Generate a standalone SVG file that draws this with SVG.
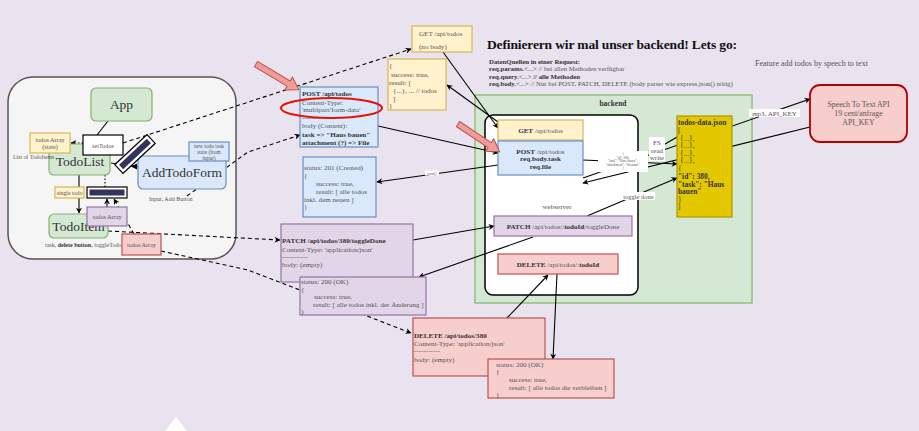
<svg xmlns="http://www.w3.org/2000/svg" width="919" height="431" viewBox="0 0 919 431">
<style>
text{font-family:"Liberation Serif","DejaVu Serif",serif;fill:#555}
.b{font-weight:bold;fill:#333}
.big{font-size:13.5px;text-anchor:middle;fill:#333}
.s{font-size:7.1px}
.xs{font-size:6.2px}
.c{text-anchor:middle}
.g{fill:#d5e8d4;stroke:#82b366;stroke-width:1.2}
.y{fill:#fff2cc;stroke:#d6b656;stroke-width:1.2}
.bl{fill:#dae8fc;stroke:#6c8ebf;stroke-width:1.2}
.p{fill:#e1d5e7;stroke:#9673a6;stroke-width:1.2}
.r{fill:#f8cecc;stroke:#b85450;stroke-width:1.2}
.ln{stroke:#000;stroke-width:1.1;fill:none}
.da{stroke-dasharray:4 3}
.dt{stroke-dasharray:1.5 2}
.lb{fill:#fff}
.pink{fill:#f19c99;stroke:#b85450;stroke-width:1}
</style>
<defs>
<marker id="arr" viewBox="0 0 10 10" refX="9" refY="5" markerWidth="6" markerHeight="6" markerUnits="userSpaceOnUse" orient="auto"><path d="M0,0 L10,5 L0,10 L3,5 z" fill="#000"/></marker>
</defs>
<rect width="919" height="431" fill="#e9e3ef"/>
<polygon points="165,431 176,417 187,431" fill="#fff"/>

<g id="frontend-panel"><rect x="8" y="77" width="228" height="182" rx="25" fill="#f5f5f5" stroke="#555" stroke-width="1.5"/></g>

<g id="title">
<text x="487" y="49" class="b" style="font-size:13.5px;fill:#111" textLength="250">Definierern wir mal unser backend! Lets go:</text>
<text x="489" y="64" style="font-size:6.8px"><tspan class="b">DatenQuellen in einer Request:</tspan></text>
<text x="489" y="71" style="font-size:6.8px"><tspan class="b">req.params.</tspan>&lt;...&gt; // bei allen Methoden verfügbar</text>
<text x="489" y="78.5" style="font-size:6.8px"><tspan class="b">req.query.</tspan>&lt;...&gt; <tspan class="b">// alle Methoden</tspan></text>
<text x="489" y="86" style="font-size:6.8px"><tspan class="b">req.body.</tspan>&lt;...&gt; // Nur bei POST, PATCH, DELETE (body parser wie express.json() nötig)</text>
<text x="755" y="66" style="font-size:8px">Feature add todos by speech to text</text>
</g>

<g id="backend"><rect x="475" y="95" width="277" height="208" class="g"/><text x="613" y="106" class="b c" style="font-size:7.5px">backend</text></g>
<g id="webserver"><rect x="485" y="115" width="153" height="180" rx="8" fill="#fff" stroke="#000" stroke-width="1.5"/><text x="557" y="209" class="s c">webserver</text></g>

<g id="connectors">
<line x1="108" y1="121" x2="97" y2="135" class="ln"/>
<line x1="83" y1="143" x2="71" y2="143" class="ln dt" marker-end="url(#arr)"/>
<line x1="79" y1="175" x2="79" y2="213" class="ln" marker-end="url(#arr)"/>
<line x1="105" y1="187" x2="105" y2="156" class="ln dt" marker-end="url(#arr)"/>
<line x1="107" y1="207" x2="107" y2="199" class="ln da" marker-end="url(#arr)"/>
<line x1="134" y1="234" x2="114" y2="199" class="ln da" marker-end="url(#arr)"/>
<line x1="111" y1="163" x2="139" y2="167" class="ln"/>
<line x1="123" y1="143" x2="411" y2="49" class="ln da" marker-end="url(#arr)"/>
<polyline points="187,196 248,152 300,135" class="ln da" marker-end="url(#arr)"/>
<line x1="108" y1="231" x2="280" y2="240" class="ln da" marker-end="url(#arr)"/>
<polyline points="161,251 248,270 411,333" class="ln da" marker-end="url(#arr)"/>
<line x1="443" y1="52" x2="498" y2="128" class="ln" marker-end="url(#arr)"/>
<line x1="498" y1="122" x2="447" y2="85" class="ln" marker-end="url(#arr)"/>
<line x1="378" y1="126" x2="498" y2="153" class="ln" marker-end="url(#arr)"/>
<line x1="498" y1="165" x2="377" y2="182" class="ln" marker-end="url(#arr)"/>
<line x1="413" y1="240" x2="494" y2="226" class="ln" marker-end="url(#arr)"/>
<line x1="533" y1="237" x2="419" y2="277" class="ln" marker-end="url(#arr)"/>
<line x1="507" y1="318" x2="548" y2="275" class="ln" marker-end="url(#arr)"/>
<line x1="557" y1="274" x2="553" y2="359" class="ln" marker-end="url(#arr)"/>
<line x1="583" y1="160" x2="677" y2="164" class="ln" marker-end="url(#arr)"/>
<line x1="655" y1="150" x2="677" y2="137" class="ln"/>
<line x1="587" y1="216" x2="677" y2="178" class="ln" marker-end="url(#arr)"/>
<line x1="583" y1="178" x2="810" y2="99" class="ln" marker-end="url(#arr)"/>
<line x1="810" y1="127" x2="583" y2="183" class="ln" marker-end="url(#arr)"/>
<rect x="425" y="170.5" width="14" height="5" class="lb"/><text x="432" y="174.7" class="c" style="font-size:4px">json()</text>
<rect x="649" y="137" width="16" height="24" class="lb"/>
<text x="657" y="145" class="c" style="font-size:7px">FS</text><text x="657" y="152.5" class="c" style="font-size:7px">read</text><text x="657" y="160" class="c" style="font-size:7px">write</text>
<rect x="696" y="149" width="16" height="9" class="lb"/><text x="704" y="156" class="c" style="font-size:7px">text</text>
<rect x="622" y="192" width="33" height="8" class="lb"/><text x="638.5" y="198.5" class="c" style="font-size:6.5px">toggle done</text>
<rect x="749" y="109" width="51" height="8" class="lb"/><text x="774.5" y="115.5" class="c" style="font-size:7px">mp3, API_KEY</text>
<rect x="598" y="151" width="50" height="21" class="lb"/>
<text class="c" style="font-size:3.4px" x="623"><tspan x="623" y="155">{</tspan><tspan x="623" y="158.5">"id": 380,</tspan><tspan x="623" y="162">"task": "Haus bauen",</tspan><tspan x="623" y="165.5">"attachment": "filename"</tspan><tspan x="623" y="169">}</tspan></text>
</g>

<g id="app"><rect x="91" y="88" width="61" height="33" rx="5" class="g"/><text x="121.5" y="109" class="big">App</text></g>
<g id="todolist"><rect x="49" y="144" width="61" height="31" rx="5" class="g"/><text x="80" y="166" class="big">TodoList</text></g>
<g id="todos-state"><rect x="30" y="133" width="40" height="20" class="y"/><text x="50" y="141.5" class="c xs">todos Array</text><text x="50" y="149" class="c xs">(state)</text></g>
<g id="settodos"><rect x="83" y="135" width="40" height="20" fill="#fff" stroke="#000" stroke-width="1.2"/><text x="103" y="147.5" class="c xs">setTodos</text></g>
<text x="13" y="159" style="font-size:5.8px">List of TodoItems</text>
<g id="addtodoform"><rect x="138" y="156" width="88" height="33" rx="5" class="bl"/><text x="182" y="177" class="big">AddTodoForm</text></g>
<g id="new-todo-state"><rect x="189" y="142" width="40" height="19" class="bl"/><text x="209" y="148" class="c" style="font-size:5.4px">new todo task</text><text x="209" y="154" class="c" style="font-size:5.4px">state (from</text><text x="209" y="160" class="c" style="font-size:5.4px">input)</text></g>
<text x="149" y="201" style="font-size:6px">Input, Add Button</text>
<g id="bar-diagonal" transform="translate(135,154) rotate(-43)"><rect x="-22" y="-6" width="44" height="12" fill="#fff" stroke="#000" stroke-width="1.2"/><rect x="-19" y="-3" width="38" height="6" fill="#33335e"/></g>
<polygon points="131,166.5 137,163.5 137,169.5" fill="#000"/>
<g id="single-todo"><rect x="55" y="187" width="29" height="11" class="y"/><text x="69.5" y="194.8" class="c" style="font-size:5.8px">single todo</text></g>
<g id="bar-horizontal"><rect x="87" y="187" width="40" height="11" fill="#fff" stroke="#000" stroke-width="1.2"/><rect x="89.5" y="189.5" width="35" height="6" fill="#33335e"/></g>
<g id="todoitem"><rect x="49" y="214" width="59" height="24" rx="5" class="g"/><text x="78.5" y="231" class="big">TodoItem</text></g>
<g id="todos-array-purple"><rect x="87" y="207" width="40" height="19" class="p"/><text x="107" y="219" class="c xs">todos Array</text></g>
<g id="todos-array-red"><rect x="122" y="234" width="39" height="21" class="r"/><text x="141.5" y="247" class="c xs">todos Array</text></g>
<text x="45" y="247" style="font-size:6px">task, <tspan class="b">delete button</tspan>, toggleTodo</text>

<g id="get-request"><rect x="412" y="26" width="60" height="26" class="y"/><text x="419" y="36" class="s">GET /api/todos</text><text x="419" y="49" class="s">(no body)</text></g>
<g id="get-response"><rect x="388" y="59" width="58" height="51" class="y"/>
<text class="s"><tspan x="389" y="67.5">{</tspan><tspan x="391" y="77">success: true,</tspan><tspan x="389" y="85">result: [</tspan><tspan x="393" y="93">{...}, ... // todos</tspan><tspan x="393" y="100.5">]</tspan><tspan x="389" y="107.5">}</tspan></text></g>

<g id="post-request"><rect x="300" y="87" width="78" height="60" class="bl"/>
<text x="302" y="96" class="s b">POST /api/todos</text>
<text x="302" y="104.5" class="s">Content-Type:</text>
<text x="302" y="112" class="s">'multipart/form-data'</text>
<text x="302" y="120" class="s">-----------</text>
<text x="302" y="128" class="s">body (Content):</text>
<text x="302" y="136.5" class="s b">task =&gt; "Haus bauen"</text>
<text x="302" y="144.5" class="s b">attachment (?) =&gt; File</text>
<ellipse cx="331.5" cy="108" rx="50.5" ry="10" fill="none" stroke="#e51400" stroke-width="2"/></g>

<g id="post-response"><rect x="303" y="157" width="73" height="60" class="bl"/>
<text class="s"><tspan x="304" y="170">status: 201 (Created)</tspan><tspan x="304" y="178">{</tspan><tspan x="316" y="186">success: true,</tspan><tspan x="316" y="194">result: [ alle todos</tspan><tspan x="304" y="201.5">inkl. dem neuen ]</tspan><tspan x="304" y="209">}</tspan></text></g>

<g id="patch-request"><rect x="281" y="224" width="132" height="58" class="p"/>
<text x="282" y="243" class="s b">PATCH /api/todos/380/toggleDone</text>
<text x="282" y="251.5" class="s">Content-Type: 'application/json'</text>
<text x="282" y="258.5" class="s">-----------</text>
<text x="282" y="267" class="s">body: (empty)</text></g>

<g id="patch-response"><rect x="300" y="277" width="126" height="38" class="p"/>
<text class="s"><tspan x="301" y="283.5">status: 200 (OK)</tspan><tspan x="301" y="291.5">{</tspan><tspan x="314" y="299">success: true,</tspan><tspan x="313" y="306.5">result: [ alle todos inkl. der Änderung ]</tspan><tspan x="301" y="314">}</tspan></text></g>

<g id="delete-request"><rect x="413" y="318" width="132" height="58" class="r"/>
<text x="414" y="337.5" class="s b">DELETE /api/todos/380</text>
<text x="414" y="345.5" class="s">Content-Type: 'application/json'</text>
<text x="414" y="353" class="s">-----------</text>
<text x="414" y="361.5" class="s">body: (empty)</text></g>

<g id="delete-response"><rect x="488" y="359" width="126" height="39" class="r"/>
<text class="s"><tspan x="496" y="366.5">status: 200 (OK)</tspan><tspan x="496" y="374">{</tspan><tspan x="509" y="381.5">success: true,</tspan><tspan x="509" y="389.5">result: [ alle todos die verbleiben ]</tspan><tspan x="496" y="397">}</tspan></text></g>

<g id="ws-get"><rect x="498" y="120" width="85" height="20" class="y"/><text x="540.5" y="133" class="s c"><tspan class="b">GET</tspan> /api/todos</text></g>
<g id="ws-post"><rect x="498" y="141" width="85" height="34" class="bl"/><text x="540.5" y="153.5" class="s c"><tspan class="b">POST</tspan> /api/todos</text><text x="540.5" y="161" class="s c b">req.body.task</text><text x="540.5" y="168.5" class="s c b">req.file</text></g>
<g id="ws-patch"><rect x="494" y="216" width="138" height="20" class="p"/><text x="563" y="229" class="s c"><tspan class="b">PATCH</tspan> /api/todos/:<tspan class="b">todoId</tspan>/toggleDone</text></g>
<g id="ws-delete"><rect x="498" y="254" width="120" height="20" class="r"/><text x="558" y="267" class="s c"><tspan class="b">DELETE</tspan> /api/todos/:<tspan class="b">todoId</tspan></text></g>

<g id="todos-data-json"><rect x="677" y="116" width="55" height="101" fill="#e3c800" stroke="#b09500" stroke-width="1.2"/>
<text style="font-size:7.4px;fill:#333"><tspan x="678" y="125" class="b">todos-data.json</tspan><tspan x="678" y="133">[</tspan><tspan x="680" y="140.5">{...},</tspan><tspan x="680" y="148">{...},</tspan><tspan x="680" y="155.5">{...},</tspan><tspan x="680" y="163">{...},</tspan><tspan x="678" y="170.5">{</tspan><tspan x="678" y="178.5" class="b">"id": 380,</tspan><tspan x="678" y="186.5" class="b">"task": "Haus</tspan><tspan x="678" y="194" class="b">bauen"</tspan><tspan x="678" y="201.5">}</tspan><tspan x="678" y="209">]</tspan></text></g>

<g id="speech-api"><rect x="810" y="85" width="97" height="57" rx="10" fill="#f8cecc" stroke="#b20000" stroke-width="1.8"/>
<text x="858.5" y="107" class="c" style="font-size:7.8px">Speech To Text API</text><text x="858.5" y="116" class="c" style="font-size:7.8px">19 cent/anfrage</text><text x="858.5" y="125" class="c" style="font-size:7.8px">API_KEY</text></g>

<g id="pink-arrows">
<polygon transform="translate(256,64) rotate(31)" points="0,-3 38,-3 38,-7.5 50,0 38,7.5 38,3 0,3" class="pink"/>
<polygon transform="translate(458,124) rotate(33.7)" points="0,-3 38,-3 38,-7.5 50,0 38,7.5 38,3 0,3" class="pink"/>
</g>
</svg>
